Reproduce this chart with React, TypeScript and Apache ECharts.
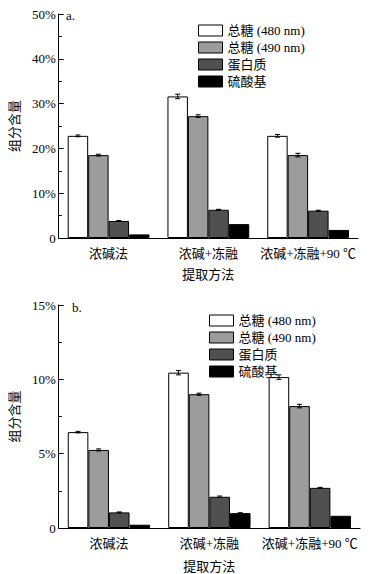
import React, { useEffect, useRef } from "react";
import * as echarts from "echarts";

const categories = ["浓碱法", "浓碱+冻融", "浓碱+冻融+90 ℃"];
const seriesNames = ["总糖 (480 nm)", "总糖 (490 nm)", "蛋白质", "硫酸基"];
const seriesColors = ["#ffffff", "#9c9c9c", "#505050", "#000000"];

// panel a
const aSugar480 = [22.8, 31.6, 22.8];
const aSugar490 = [18.5, 27.2, 18.5];
const aProtein = [3.8, 6.3, 6.1];
const aSulfate = [0.8, 3.1, 1.8];
const aSugar480Err = [0.2, 0.5, 0.3];
const aSugar490Err = [0.2, 0.3, 0.4];
const aProteinErr = [0.1, 0.1, 0.1];
const aSulfateErr = [0, 0, 0];

// panel b
const bSugar480 = [6.45, 10.45, 10.15];
const bSugar490 = [5.25, 9.0, 8.2];
const bProtein = [1.05, 2.1, 2.7];
const bSulfate = [0.22, 1.0, 0.82];
const bSugar480Err = [0.05, 0.15, 0.15];
const bSugar490Err = [0.07, 0.07, 0.12];
const bProteinErr = [0.03, 0.05, 0.03];
const bSulfateErr = [0, 0.03, 0];

const FONT = "'Liberation Serif', 'Noto Sans CJK SC', serif";
const GAP = 0.18;

export default function App() {
  const ref = useRef<HTMLDivElement>(null);
  useEffect(() => {
    if (!ref.current) return;
    const chart = echarts.init(ref.current, null, { renderer: "svg" });
    const panels = [
      { vals: [aSugar480, aSugar490, aProtein, aSulfate], errs: [aSugar480Err, aSugar490Err, aProteinErr, aSulfateErr] },
      { vals: [bSugar480, bSugar490, bProtein, bSulfate], errs: [bSugar480Err, bSugar490Err, bProteinErr, bSulfateErr] },
    ];
    const series: any[] = [];
    panels.forEach((p, gi) => {
      p.vals.forEach((vals, k) => {
        series.push({
          type: "bar",
          name: seriesNames[k],
          xAxisIndex: gi,
          yAxisIndex: gi,
          data: vals,
          barGap: "0%",
          barCategoryGap: GAP * 100 + "%",
          itemStyle: { color: seriesColors[k], borderColor: "#000", borderWidth: 1 },
        });
      });
      p.vals.forEach((vals, k) => {
        series.push({
          type: "custom",
          xAxisIndex: gi,
          yAxisIndex: gi,
          silent: true,
          z: 5,
          data: vals.map((v, i) => [i, v, p.errs[k][i]]),
          renderItem: (params: any, api: any) => {
            const ci = api.value(0);
            const v = api.value(1);
            const e = api.value(2);
            if (!e) return null;
            const catW = api.size([1, 0])[0];
            const bw = (catW * (1 - GAP)) / 4;
            const cx = api.coord([ci, v])[0] + (k - 1.5) * bw;
            const yT = api.coord([ci, v + e])[1];
            const yB = api.coord([ci, v - e])[1];
            const style = { stroke: "#000", lineWidth: 1 };
            return {
              type: "group",
              children: [
                { type: "line", shape: { x1: cx, y1: yT, x2: cx, y2: yB }, style },
                { type: "line", shape: { x1: cx - 2.5, y1: yT, x2: cx + 2.5, y2: yT }, style },
                { type: "line", shape: { x1: cx - 2.5, y1: yB, x2: cx + 2.5, y2: yB }, style },
              ],
            };
          },
        });
      });
    });

    const xAxisCommon = {
      type: "category",
      data: categories,
      name: "提取方法",
      nameLocation: "middle",
      nameTextStyle: { fontFamily: FONT, fontSize: 13, color: "#000" },
      axisLine: { lineStyle: { color: "#000", width: 1 } },
      axisTick: { inside: true, length: 4, lineStyle: { color: "#000" } },
      axisLabel: { fontFamily: FONT, fontSize: 13, color: "#000", margin: 9, interval: 0 },
      splitLine: { show: false },
    };
    const yAxisCommon = {
      type: "value",
      min: 0,
      name: "组分含量",
      nameLocation: "middle",
      nameGap: 25,
      nameTextStyle: { fontFamily: FONT, fontSize: 13, color: "#000" },
      axisLine: { show: true, lineStyle: { color: "#000", width: 1 } },
      axisTick: { show: true, inside: true, length: 5, lineStyle: { color: "#000" } },
      minorTick: { show: true, splitNumber: 2, length: 3, lineStyle: { color: "#000" } },
      axisLabel: {
        fontFamily: FONT,
        fontSize: 13,
        color: "#000",
        margin: 3,
        formatter: (v: number) => (v === 0 ? "0" : v + "%"),
      },
      splitLine: { show: false },
    };

    const legendCommon = {
      orient: "vertical",
      data: seriesNames.map((n) => ({ name: n, icon: "rect" })),
      itemWidth: 24,
      itemHeight: 11,
      itemGap: 4,
      selectedMode: false,
      itemStyle: { borderColor: "#000", borderWidth: 1 },
      textStyle: { fontFamily: FONT, fontSize: 13, color: "#000" },
    };

    chart.setOption({
      animation: false,
      backgroundColor: "#fff",
      grid: [
        { left: 54, top: 14, width: 304, height: 224 },
        { left: 54, top: 305, width: 306, height: 227 },
      ],
      xAxis: [
        { ...xAxisCommon, gridIndex: 0, nameGap: 30 },
        { ...xAxisCommon, gridIndex: 1, nameGap: 32 },
      ],
      yAxis: [
        { ...yAxisCommon, gridIndex: 0, max: 50, interval: 10 },
        { ...yAxisCommon, gridIndex: 1, max: 15, interval: 5 },
      ],
      legend: [
        { ...legendCommon, left: 193, top: 19 },
        { ...legendCommon, left: 204, top: 309 },
      ],
      graphic: [
        { type: "text", left: 66, top: 9, style: { text: "a.", font: "13px " + FONT, fill: "#000" } },
        { type: "text", left: 72, top: 301, style: { text: "b.", font: "13px " + FONT, fill: "#000" } },
      ],
      series,
    });
    return () => chart.dispose();
  }, []);
  return (
    <div
      ref={ref}
      style={{ position: "absolute", left: 0, top: 0, width: 374, height: 574, background: "#fff" }}
    />
  );
}
